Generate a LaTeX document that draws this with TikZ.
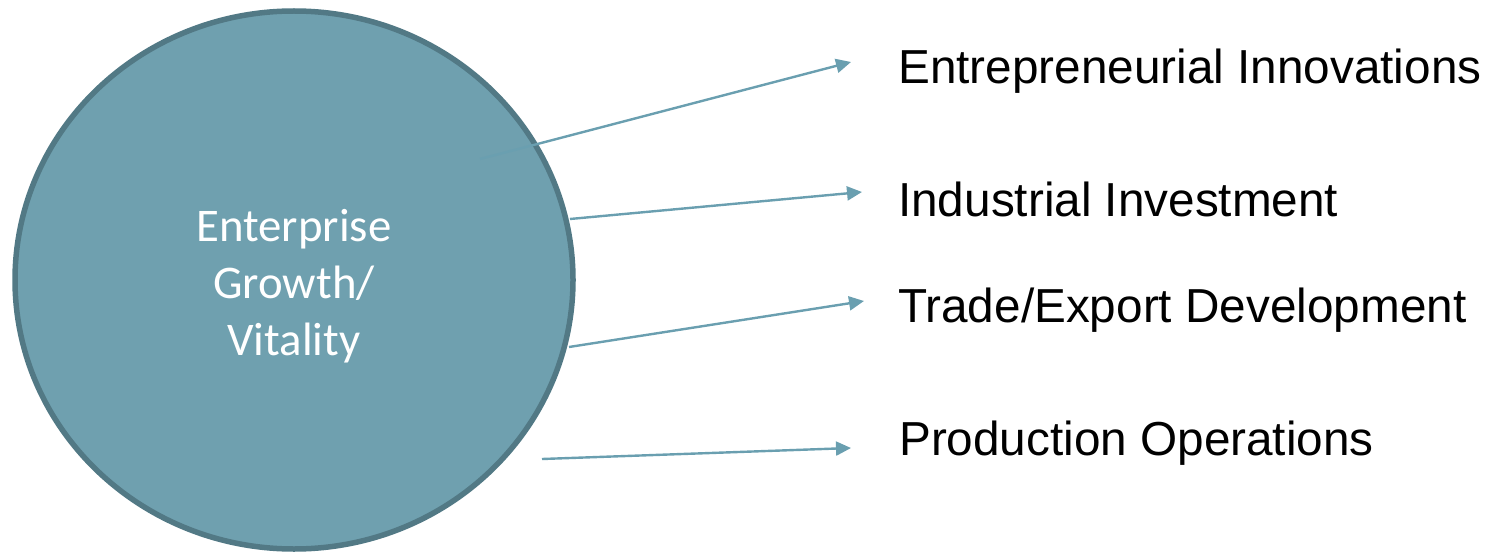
\documentclass[tikz,border=0pt]{standalone}
\usepackage{fontspec}
\setmainfont{Liberation Sans}
\newfontfamily\hubfont{Carlito}
\usetikzlibrary{arrows.meta,shapes.geometric}

\definecolor{hubfill}{HTML}{6FA0AF}
\definecolor{hubedge}{HTML}{527985}
\definecolor{linkcol}{HTML}{6A9FB0}

\tikzset{
  hub/.style={ellipse, draw=hubedge, fill=hubfill, line width=5.5pt,
    minimum width=558pt, minimum height=538pt, inner sep=0pt},
  hubtext/.style={text=white, align=center, inner sep=0pt,
    font=\hubfont\fontsize{46.8}{56.7}\selectfont},
  outcome/.style={anchor=base west, inner sep=0pt, text=black,
    font=\fontsize{47.7}{58}\selectfont},
  link/.style={draw=linkcol, line width=2.4pt,
    -{Triangle[length=15pt,width=14pt]}}
}

\begin{document}
\begin{tikzpicture}[x=1pt,y=-1pt]
  \useasboundingbox (0,0) rectangle (1487,556);

  % central circle and its caption (base = baseline of the last line)
  \node[hub] (hub) at (294,280) {};
  \node[hubtext, anchor=base] (cap) at (294,355)
    {Enterprise\\Growth/\\Vitality};

  % outcome labels
  \node[outcome] (innov) at (898,83.3) {Entrepreneurial Innovations};
  \node[outcome] (invest) at (898,216.7) {Industrial Investment};
  \node[outcome] (trade) at (898,322.3) {Trade/Export Development};
  \node[outcome] (prod) at (899,455.7) {Production Operations};

  % arrow start and end points
  \coordinate (s1) at (480,159);
  \coordinate (e1) at (851,62);
  \coordinate (s2) at (570,219);
  \coordinate (e2) at (862,192);
  \coordinate (s3) at (569,347);
  \coordinate (e3) at (864,301);
  \coordinate (s4) at (542,459);
  \coordinate (e4) at (851,448);

  \draw[link] (s1) -- (e1);
  \draw[link] (s2) -- (e2);
  \draw[link] (s3) -- (e3);
  \draw[link] (s4) -- (e4);
\end{tikzpicture}
\end{document}
